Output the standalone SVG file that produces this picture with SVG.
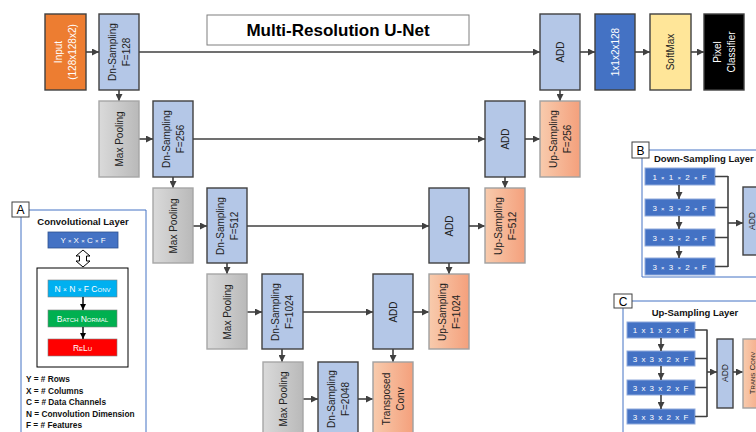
<svg xmlns="http://www.w3.org/2000/svg" width="756" height="432" viewBox="0 0 756 432">
<defs>
<linearGradient id="gMax" x1="0" y1="0" x2="1" y2="0"><stop offset="0" stop-color="#DADADA"/><stop offset="1" stop-color="#B9B9B9"/></linearGradient>
<linearGradient id="gUp" x1="0" y1="0" x2="1" y2="0"><stop offset="0" stop-color="#F8CBAD"/><stop offset="1" stop-color="#F4A07C"/></linearGradient>
<marker id="ah" viewBox="0 0 8 8" refX="8" refY="4" markerWidth="7" markerHeight="7" markerUnits="userSpaceOnUse" orient="auto"><path d="M0,0 L8,4 L0,8 Z" fill="#404040"/></marker>
<marker id="ahk" viewBox="0 0 8 8" refX="8" refY="4" markerWidth="6" markerHeight="6" markerUnits="userSpaceOnUse" orient="auto"><path d="M0,0 L8,4 L0,8 Z" fill="#000"/></marker>
<style>
text{font-family:"Liberation Sans",Arial,sans-serif;}
.lbl{font-size:10px;text-anchor:middle;fill:#222;}
.wl{font-size:10px;text-anchor:middle;fill:#fff;}
.dn{fill:#B4C7E7;stroke:#404040;stroke-width:1.4;}
.mp{fill:url(#gMax);stroke:#A6A6A6;stroke-width:1.4;}
.up{fill:url(#gUp);stroke:#A0A0A0;stroke-width:1.4;}
.con line,.con path{stroke:#404040;stroke-width:1.6;fill:none;}
.arr{marker-end:url(#ah);}
.panel{stroke:#4472C4;stroke-width:1;fill:none;}
.tag{fill:#fff;stroke:#404040;stroke-width:1;}
.tagt{font-size:12px;text-anchor:middle;fill:#000;}
.ptitle{font-size:9.5px;font-weight:bold;fill:#111;}
.leg{font-size:8.3px;font-weight:bold;fill:#111;}
.bb{fill:#4472C4;stroke:#8FAADC;stroke-width:1;}
.bt{font-size:8px;fill:#fff;text-anchor:middle;letter-spacing:1px;}
.sc{font-variant:small-caps;}
</style>
</defs>
<rect width="756" height="432" fill="#fff"/>

<g id="title"><rect x="207" y="15" width="262" height="30" fill="#fff" stroke="#7F7F7F" stroke-width="1"/><text x="338" y="36" font-size="17" font-weight="bold" text-anchor="middle" fill="#000">Multi-Resolution U-Net</text></g>

<g class="con" id="connectors">
<line class="arr" x1="86" y1="52" x2="99" y2="52"/>
<line class="arr" x1="139" y1="52" x2="540" y2="52"/>
<line class="arr" x1="580" y1="52" x2="595" y2="52"/>
<line class="arr" x1="635" y1="52" x2="650" y2="52"/>
<line class="arr" x1="691" y1="52" x2="704" y2="52"/>
<line class="arr" x1="119" y1="90" x2="119" y2="101"/>
<line class="arr" x1="560" y1="90" x2="560" y2="101"/>
<line class="arr" x1="139" y1="139" x2="153" y2="139"/>
<line class="arr" x1="193" y1="139" x2="485" y2="139"/>
<line class="arr" x1="525" y1="139" x2="540" y2="139"/>
<line class="arr" x1="173" y1="177" x2="173" y2="188"/>
<line class="arr" x1="505" y1="177" x2="505" y2="188"/>
<line class="arr" x1="193" y1="226" x2="207" y2="226"/>
<line class="arr" x1="247" y1="226" x2="429" y2="226"/>
<line class="arr" x1="469" y1="226" x2="485" y2="226"/>
<line class="arr" x1="227" y1="263" x2="227" y2="274"/>
<line class="arr" x1="449" y1="263" x2="449" y2="274"/>
<line class="arr" x1="247" y1="312" x2="262" y2="312"/>
<line class="arr" x1="303" y1="312" x2="373" y2="312"/>
<line class="arr" x1="413" y1="312" x2="429" y2="312"/>
<line class="arr" x1="282" y1="349" x2="282" y2="362"/>
<line class="arr" x1="393" y1="349" x2="393" y2="362"/>
<line class="arr" x1="303" y1="399" x2="318" y2="399"/>
<line class="arr" x1="358" y1="399" x2="373" y2="399"/>
</g>

<g id="input"><rect x="45" y="14" width="41" height="76" fill="#ED7D31" stroke="#404040" stroke-width="1.4"/><g transform="translate(65.5,52) rotate(-90)"><text class="wl" y="-3.5">Input</text><text class="wl" y="10.5">(128x128x2)</text></g></g>
<g id="dn128"><rect class="dn" x="99" y="14" width="40" height="76"/><g transform="translate(119,52) rotate(-90)"><text class="lbl" y="-3.5">Dn-Sampling</text><text class="lbl" y="10.5">F=128</text></g></g>
<g id="add1"><rect class="dn" x="540" y="14" width="40" height="76"/><text class="lbl" transform="translate(560,52) rotate(-90)" y="3.5">ADD</text></g>
<g id="conv1x1"><rect x="595" y="14" width="40" height="76" fill="#4472C4" stroke="#404040" stroke-width="1.4"/><text class="wl" transform="translate(615,52) rotate(-90)" y="3.5">1x1x2x128</text></g>
<g id="softmax"><rect x="650" y="14" width="41" height="76" fill="#FFE699" stroke="#404040" stroke-width="1.4"/><text class="lbl" transform="translate(670.5,52) rotate(-90)" y="3.5">SoftMax</text></g>
<g id="pixel"><rect x="704" y="14" width="40" height="76" fill="#000" stroke="#404040" stroke-width="1.4"/><g transform="translate(724,52) rotate(-90)"><text class="wl" y="-3.5">Pixel</text><text class="wl" y="10.5">Classifier</text></g></g>

<g id="mp1"><rect class="mp" x="99" y="101" width="40" height="76"/><text class="lbl" transform="translate(119,139) rotate(-90)" y="3.5">Max Pooling</text></g>
<g id="dn256"><rect class="dn" x="153" y="101" width="40" height="76"/><g transform="translate(173,139) rotate(-90)"><text class="lbl" y="-3.5">Dn-Sampling</text><text class="lbl" y="10.5">F=256</text></g></g>
<g id="add2"><rect class="dn" x="485" y="101" width="40" height="76"/><text class="lbl" transform="translate(505,139) rotate(-90)" y="3.5">ADD</text></g>
<g id="up256"><rect class="up" x="540" y="101" width="40" height="76"/><g transform="translate(560,139) rotate(-90)"><text class="lbl" y="-3.5">Up-Sampling</text><text class="lbl" y="10.5">F=256</text></g></g>

<g id="mp2"><rect class="mp" x="153" y="188" width="40" height="75"/><text class="lbl" transform="translate(173,226) rotate(-90)" y="3.5">Max Pooling</text></g>
<g id="dn512"><rect class="dn" x="207" y="188" width="40" height="75"/><g transform="translate(227,226) rotate(-90)"><text class="lbl" y="-3.5">Dn-Sampling</text><text class="lbl" y="10.5">F=512</text></g></g>
<g id="add3"><rect class="dn" x="429" y="188" width="40" height="75"/><text class="lbl" transform="translate(449,226) rotate(-90)" y="3.5">ADD</text></g>
<g id="up512"><rect class="up" x="485" y="188" width="40" height="75"/><g transform="translate(505,226) rotate(-90)"><text class="lbl" y="-3.5">Up-Sampling</text><text class="lbl" y="10.5">F=512</text></g></g>

<g id="mp3"><rect class="mp" x="207" y="274" width="40" height="75"/><text class="lbl" transform="translate(227,312) rotate(-90)" y="3.5">Max Pooling</text></g>
<g id="dn1024"><rect class="dn" x="262" y="274" width="41" height="75"/><g transform="translate(282.5,312) rotate(-90)"><text class="lbl" y="-3.5">Dn-Sampling</text><text class="lbl" y="10.5">F=1024</text></g></g>
<g id="add4"><rect class="dn" x="373" y="274" width="40" height="75"/><text class="lbl" transform="translate(393,312) rotate(-90)" y="3.5">ADD</text></g>
<g id="up1024"><rect class="up" x="429" y="274" width="40" height="75"/><g transform="translate(449,312) rotate(-90)"><text class="lbl" y="-3.5">Up-Sampling</text><text class="lbl" y="10.5">F=1024</text></g></g>

<g id="mp4"><rect class="mp" x="263" y="362" width="40" height="80"/><text class="lbl" transform="translate(283,399) rotate(-90)" y="3.5">Max Pooling</text></g>
<g id="dn2048"><rect class="dn" x="318" y="362" width="40" height="80"/><g transform="translate(338,399) rotate(-90)"><text class="lbl" y="-3.5">Dn-Sampling</text><text class="lbl" y="10.5">F=2048</text></g></g>
<g id="transconv"><rect class="up" x="373" y="362" width="40" height="80"/><g transform="translate(393,399) rotate(-90)"><text class="lbl" y="-3.5">Transposed</text><text class="lbl" y="10.5">Conv</text></g></g>

<g id="panelA">
<path class="panel" d="M29,210 H146 V440 M21,217 V440"/>
<rect class="tag" x="12" y="202" width="17" height="15"/><text class="tagt" x="20.5" y="214">A</text>
<text class="ptitle" x="83" y="225" text-anchor="middle">Convolutional Layer</text>
<rect x="48" y="232" width="70" height="16" fill="#4472C4" stroke="#2F528F" stroke-width="0.8"/>
<text x="83" y="243" font-size="8" fill="#fff" text-anchor="middle">Y <tspan font-size="6">×</tspan> X <tspan font-size="6">×</tspan> C <tspan font-size="6">×</tspan> F</text>
<polygon points="83,250 90,256 86.5,256 86.5,261 90,261 83,267 76,261 79.5,261 79.5,256 76,256" fill="#fff" stroke="#000" stroke-width="1"/>
<rect x="37" y="268" width="91" height="99" fill="#fff" stroke="#000" stroke-width="1"/>
<rect x="48" y="280" width="69" height="17" fill="#00B0F0" stroke="#7F7F7F" stroke-width="0.6"/>
<text class="sc" x="82.5" y="291.5" font-size="8.5" fill="#fff" text-anchor="middle">N <tspan font-size="6.5">×</tspan> N <tspan font-size="6.5">×</tspan> F Conv</text>
<rect x="48" y="310" width="69" height="17" fill="#00B050" stroke="#7F7F7F" stroke-width="0.6"/>
<text class="sc" x="82.5" y="321.5" font-size="8.5" fill="#fff" text-anchor="middle">Batch Normal</text>
<rect x="48" y="339" width="69" height="17" fill="#FF0000" stroke="#7F7F7F" stroke-width="0.6"/>
<text class="sc" x="82.5" y="350.5" font-size="8.5" fill="#fff" text-anchor="middle">ReLu</text>
<line x1="83" y1="297" x2="83" y2="310" stroke="#000" stroke-width="1.4" marker-end="url(#ahk)"/>
<line x1="83" y1="327" x2="83" y2="339" stroke="#000" stroke-width="1.4" marker-end="url(#ahk)"/>
<text class="leg" x="26" y="382">Y = # Rows</text>
<text class="leg" x="26" y="393.5">X = # Columns</text>
<text class="leg" x="26" y="405">C = # Data Channels</text>
<text class="leg" x="26" y="416.5">N = Convolution Dimension</text>
<text class="leg" x="26" y="428">F = # Features</text>
</g>

<g id="panelB">
<path class="panel" d="M649,150 H760 M642,158 V277 H760"/>
<rect class="tag" x="632" y="142" width="17" height="16"/><text class="tagt" x="640.5" y="154.5">B</text>
<text class="ptitle" x="654" y="162">Down-Sampling Layer</text>
<rect class="bb" x="645" y="168" width="70" height="17"/><text class="bt" x="680" y="179.5">1 <tspan font-size="6">×</tspan> 1 <tspan font-size="6">×</tspan> 2 <tspan font-size="6">×</tspan> F</text>
<rect class="bb" x="645" y="199" width="70" height="17"/><text class="bt" x="680" y="210.5">3 <tspan font-size="6">×</tspan> 3 <tspan font-size="6">×</tspan> 2 <tspan font-size="6">×</tspan> F</text>
<rect class="bb" x="645" y="229" width="70" height="17"/><text class="bt" x="680" y="240.5">3 <tspan font-size="6">×</tspan> 3 <tspan font-size="6">×</tspan> 2 <tspan font-size="6">×</tspan> F</text>
<rect class="bb" x="645" y="258" width="70" height="17"/><text class="bt" x="680" y="269.5">3 <tspan font-size="6">×</tspan> 3 <tspan font-size="6">×</tspan> 2 <tspan font-size="6">×</tspan> F</text>
<g class="con">
<line class="arr" x1="679" y1="185" x2="679" y2="199"/>
<line class="arr" x1="679" y1="216" x2="679" y2="229"/>
<line class="arr" x1="679" y1="246" x2="679" y2="258"/>
<path d="M715,176.5 H728 M715,207.5 H728 M715,237.5 H728 M715,266.5 H728 M728,176 V267"/>
<line class="arr" x1="728" y1="223" x2="743" y2="223"/>
</g>
<rect class="dn" x="743" y="187" width="22" height="68"/>
<text class="lbl" transform="translate(751.5,221) rotate(-90)" y="3" style="font-size:8.5px">ADD</text>
</g>

<g id="panelC">
<path class="panel" d="M632,301 H760 M623,308 V440"/>
<rect class="tag" x="614" y="294" width="18" height="14"/><text class="tagt" x="623" y="305.5">C</text>
<text class="ptitle" x="695" y="316" text-anchor="middle">Up-Sampling Layer</text>
<rect class="bb" x="627" y="322" width="68" height="16"/><text class="bt" x="661" y="333">1 x 1 x 2 x F</text>
<rect class="bb" x="627" y="351" width="68" height="15"/><text class="bt" x="661" y="361.5">3 x 3 x 2 x F</text>
<rect class="bb" x="627" y="380" width="68" height="15"/><text class="bt" x="661" y="390.5">3 x 3 x 2 x F</text>
<rect class="bb" x="627" y="409" width="68" height="15"/><text class="bt" x="661" y="419.5">3 x 3 x 2 x F</text>
<g class="con">
<line class="arr" x1="661" y1="338" x2="661" y2="351"/>
<line class="arr" x1="661" y1="366" x2="661" y2="380"/>
<line class="arr" x1="661" y1="395" x2="661" y2="409"/>
<path d="M695,330 H707 M695,358.5 H707 M695,387.5 H707 M695,416.5 H707 M707,329.5 V417"/>
<line class="arr" x1="707" y1="372" x2="717" y2="372"/>
<line class="arr" x1="733" y1="372" x2="743" y2="372"/>
</g>
<rect class="dn" x="717" y="339" width="16" height="69"/>
<text class="lbl" transform="translate(725,373) rotate(-90)" y="3" style="font-size:8.5px">ADD</text>
<rect class="up" x="743" y="339" width="22" height="69"/>
<text class="lbl sc" transform="translate(751.5,373) rotate(-90)" y="3" style="font-size:8px">Trans Conv</text>
</g>
</svg>
